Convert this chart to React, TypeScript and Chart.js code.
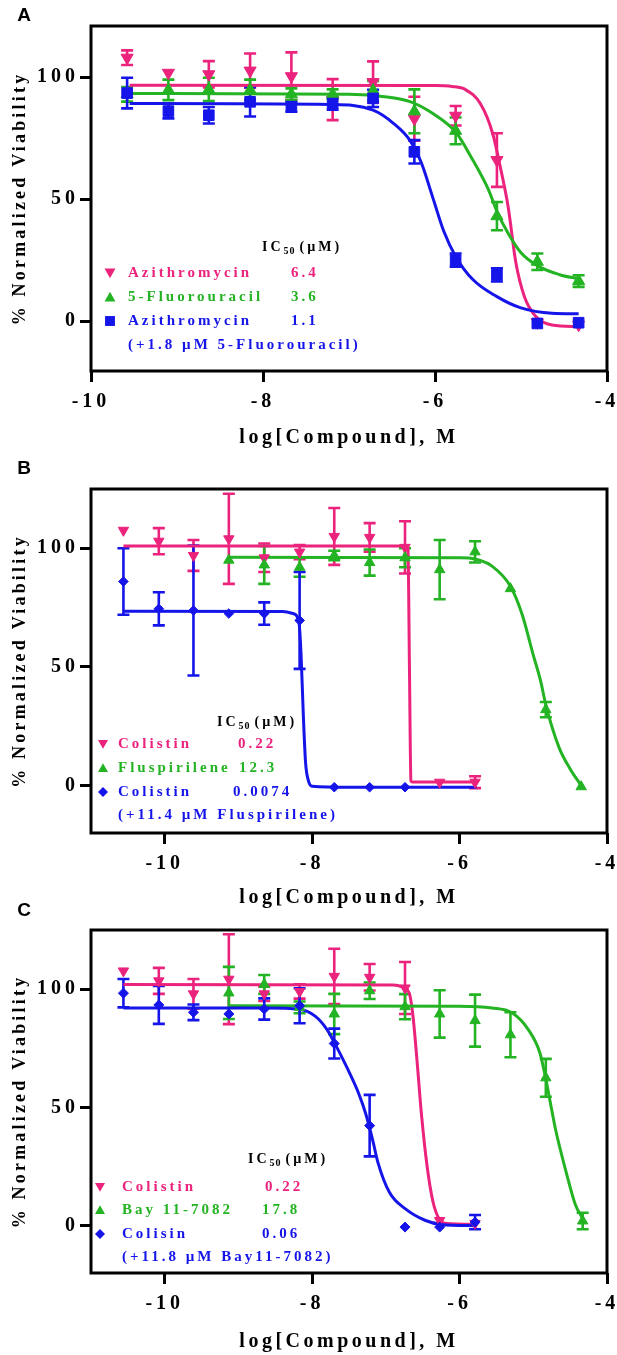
import { useEffect, useRef } from 'react';
import { Chart, registerables } from 'chart.js';

Chart.register(...registerables);

const MAGENTA = '#EB237D';
const GREEN = '#23B323';
const BLUE = '#1515EA';

const X_TICKS = [-10, -8, -6, -4];
const Y_TICKS = [0, 50, 100];

// ---------------- Panel A ----------------
const A_DOSE = [-9.58, -9.10, -8.63, -8.15, -7.67, -7.19, -6.72, -6.24, -5.76, -5.28, -4.81, -4.33];
const A_AZI = [108, 101.8, 101.2, 102.7, 100.4, 90.8, 98, 83, 84.2, 66, -0.5, -1.5];
const A_AZI_ERR = [3, 0, 5.4, 7, 9.8, 8.4, 8.5, 9, 4, 11, 0, 0];
const A_FU = [93, 94.8, 95, 94.8, 93, 93, 94.5, 86, 78, 43, 24.3, 16.4];
const A_FU_ERR = [3, 4.2, 4.8, 4.2, 2.4, 2, 4, 9, 5.5, 5.8, 3.4, 2.4];
const A_COMBO = [93.5, 86.1, 84.4, 89.9, 87.8, 89.2, 91.3, 69.4, 25, 18.9, -1, -0.7];
const A_COMBO_ERR = [6.3, 3, 3.4, 6, 2, 2.5, 3.5, 4.8, 2.7, 2.7, 0, 0];

const A_AZI_FIT_X = [-9.55, -6.0, -5.8, -5.65, -5.47, -5.33, -5.24, -5.15, -5.06, -4.96, -4.83, -4.64, -4.33];
const A_AZI_FIT_Y = [96.7, 96.6, 96.2, 95, 89, 77, 63, 47, 24, 10, 2, -1.6, -2.3];
const A_FU_FIT_X = [-9.55, -7.0, -6.72, -6.29, -6.02, -5.76, -5.56, -5.38, -5.28, -5.15, -5.0, -4.8, -4.55, -4.33];
const A_FU_FIT_Y = [93.3, 93, 92.5, 90, 85, 77.5, 66, 54, 45, 36, 28, 22.5, 19, 17.3];
const A_COMBO_FIT_X = [-9.55, -7.2, -6.72, -6.48, -6.29, -6.16, -6.02, -5.9, -5.76, -5.56, -5.28, -5.01, -4.64, -4.33];
const A_COMBO_FIT_Y = [89.2, 88.8, 86.5, 81, 74, 65, 50, 37, 26.5, 17, 10, 5.5, 3.2, 3];

const A_NAMES = ['Azithromycin', '5-Fluorouracil', 'Azithromycin'];
const A_IC50 = ['6.4', '3.6', '1.1'];
const A_NOTE = '(+1.8 µM 5-Fluorouracil)';

// ---------------- Panel B ----------------
const B_COL_DOSE = [-10.56, -10.08, -9.61, -9.13, -8.65, -8.17, -7.70, -7.22, -6.74, -6.27, -5.79];
const B_COL = [107.6, 103, 97, 104, 96, 98.4, 105, 104.6, 100.4, 1.4, 1.4];
const B_COL_ERR = [0, 5.5, 6.5, 19, 6, 3, 12, 6, 11, 0, 2.5];
const B_FLU_DOSE = [-9.13, -8.65, -8.17, -7.70, -7.22, -6.74, -6.27, -5.79, -5.31, -4.83, -4.35];
const B_FLU = [95, 93, 92, 97, 94, 96, 91, 98.5, 83, 32, -0.5];
const B_FLU_ERR = [0, 8, 4, 2, 5.5, 4, 12.5, 4.5, 0, 3.2, 0];
const B_CF_DOSE = [-10.56, -10.08, -9.61, -9.13, -8.65, -8.17, -7.70, -7.22, -6.74];
const B_CF = [86, 74.5, 73.8, 72.5, 72.5, 69.6, -0.7, -0.7, -0.7];
const B_CF_ERR = [14, 7, 27.4, 0, 4.7, 20.4, 0, 0, 0];

const B_COL_FIT_X = [-10.56, -6.72, -6.70, -6.68, -6.66, -6.64, -5.77];
const B_COL_FIT_Y = [101, 101, 100, 50, 2, 1.5, 1.5];
const B_FLU_FIT_X = [-9.13, -6.0, -5.79, -5.56, -5.31, -5.15, -5.0, -4.9, -4.83, -4.65, -4.5, -4.35];
const B_FLU_FIT_Y = [96.2, 96, 95.5, 92.5, 84, 72, 55, 44, 34, 16, 7, 0];
const B_CF_FIT_X = [-10.56, -8.4, -8.26, -8.18, -8.15, -8.12, -8.09, -8.05, -8.0, -7.5, -5.77];
const B_CF_FIT_Y = [73.5, 73.4, 72.5, 69, 55, 30, 10, 2, -0.3, -0.7, -0.7];

const B_NAMES = ['Colistin', 'Fluspirilene', 'Colistin'];
const B_IC50 = ['0.22', '12.3', '0.0074'];
const B_NOTE = '(+11.4 µM Fluspirilene)';

// ---------------- Panel C ----------------
const C_DOSE = [-10.56, -10.08, -9.61, -9.13, -8.65, -8.17, -7.70, -7.22, -6.74, -6.27, -5.79];
const C_COL = [107.7, 103.5, 98, 104.2, 98, 99, 105.4, 105, 100.5, 2.2, 1];
const C_COL_ERR = [0, 5.5, 6.3, 19, 3, 3, 11.7, 5.6, 11, 0, 0];
const C_BAY_DOSE = [-9.13, -8.65, -8.17, -7.70, -7.22, -6.74, -6.27, -5.79, -5.31, -4.83, -4.33];
const C_BAY = [98.4, 102, 92.3, 89.5, 99.3, 92.6, 89.5, 86.7, 80.7, 62.5, 2];
const C_BAY_ERR = [11, 4, 2.5, 8.5, 3.5, 5.3, 10, 11, 9.5, 8, 3.5];
const C_CB = [98.3, 93.3, 90.2, 89.5, 91.6, 93, 77, 42.3, -0.6, -0.6, 1.5];
const C_CB_ERR = [6, 8, 3.3, 0, 4.5, 7.4, 6.3, 13, 0, 0, 3];

const C_COL_FIT_X = [-10.56, -6.9, -6.78, -6.68, -6.63, -6.57, -6.52, -6.44, -6.36, -6.28, -6.2, -5.77];
const C_COL_FIT_Y = [102, 101.8, 101, 98, 88, 67, 48, 25, 10, 3, 1, 0.5];
const C_BAY_FIT_X = [-9.13, -6.0, -5.56, -5.29, -5.07, -4.91, -4.83, -4.75, -4.70, -4.54, -4.43, -4.33];
const C_BAY_FIT_Y = [93, 92.8, 92, 90, 83, 73, 62, 49, 41, 21, 9, 3];
const C_CB_FIT_X = [-10.56, -8.6, -8.18, -7.96, -7.80, -7.70, -7.53, -7.37, -7.27, -7.17, -7.11, -6.95, -6.73, -6.47, -6.25, -5.77];
const C_CB_FIT_Y = [92, 92, 91.5, 88.6, 83, 77.5, 67, 56, 47, 35, 27, 14, 7, 2.3, 0.5, 0];

const C_NAMES = ['Colistin', 'Bay 11-7082', 'Colisin'];
const C_IC50 = ['0.22', '17.8', '0.06'];
const C_NOTE = '(+11.8 µM Bay11-7082)';

const X_TITLE = 'log[Compound], M';
const Y_TITLE = '% Normalized Viability';

type Style = 'triDown' | 'triUp' | 'rect' | 'diamond';
interface Series {
  dose: number[]; val: number[]; err: number[]; fitX: number[]; fitY: number[];
  color: string; style: Style; radius: number;
}
interface Legend {
  headerX: number; headerY: number; rowY: number[]; markerX: number; textX: number;
  valueX: number[]; names: string[]; values: string[]; note: string; markerSize: number;
}
interface Panel {
  label: string; labelY: number; top: number; height: number; padTop: number; axisH: number;
  xMin: number; xMax: number; yMin: number; yMax: number; xTitleY: number;
  series: Series[]; legend: Legend;
}

const PANELS: Panel[] = [
  {
    label: 'A', labelY: 15, top: 0, height: 450, padTop: 26, axisH: 79,
    xMin: -10, xMax: -4, yMin: -20.5, yMax: 121, xTitleY: 438,
    series: [
      { dose: A_DOSE, val: A_AZI, err: A_AZI_ERR, fitX: A_AZI_FIT_X, fitY: A_AZI_FIT_Y, color: MAGENTA, style: 'triDown', radius: 7 },
      { dose: A_DOSE, val: A_FU, err: A_FU_ERR, fitX: A_FU_FIT_X, fitY: A_FU_FIT_Y, color: GREEN, style: 'triUp', radius: 7 },
      { dose: A_DOSE, val: A_COMBO, err: A_COMBO_ERR, fitX: A_COMBO_FIT_X, fitY: A_COMBO_FIT_Y, color: BLUE, style: 'rect', radius: 7.5 },
    ],
    legend: { headerX: 262, headerY: 247, rowY: [273, 297, 321, 345], markerX: 110, textX: 128, valueX: [291, 291, 291], names: A_NAMES, values: A_IC50, note: A_NOTE, markerSize: 5.5 },
  },
  {
    label: 'B', labelY: 468, top: 450, height: 460, padTop: 39, axisH: 77,
    xMin: -11, xMax: -4, yMin: -20, yMax: 125, xTitleY: 448,
    series: [
      { dose: B_COL_DOSE, val: B_COL, err: B_COL_ERR, fitX: B_COL_FIT_X, fitY: B_COL_FIT_Y, color: MAGENTA, style: 'triDown', radius: 6 },
      { dose: B_FLU_DOSE, val: B_FLU, err: B_FLU_ERR, fitX: B_FLU_FIT_X, fitY: B_FLU_FIT_Y, color: GREEN, style: 'triUp', radius: 6 },
      { dose: B_CF_DOSE, val: B_CF, err: B_CF_ERR, fitX: B_CF_FIT_X, fitY: B_CF_FIT_Y, color: BLUE, style: 'diamond', radius: 4.8 },
    ],
    legend: { headerX: 217, headerY: 272, rowY: [294, 318, 342, 365], markerX: 103, textX: 118, valueX: [238, 239, 233], names: B_NAMES, values: B_IC50, note: B_NOTE, markerSize: 5 },
  },
  {
    label: 'C', labelY: 910, top: 910, height: 445, padTop: 20, axisH: 82,
    xMin: -11, xMax: -4, yMin: -20, yMax: 125, xTitleY: 432,
    series: [
      { dose: C_DOSE, val: C_COL, err: C_COL_ERR, fitX: C_COL_FIT_X, fitY: C_COL_FIT_Y, color: MAGENTA, style: 'triDown', radius: 6 },
      { dose: C_BAY_DOSE, val: C_BAY, err: C_BAY_ERR, fitX: C_BAY_FIT_X, fitY: C_BAY_FIT_Y, color: GREEN, style: 'triUp', radius: 6 },
      { dose: C_DOSE, val: C_CB, err: C_CB_ERR, fitX: C_CB_FIT_X, fitY: C_CB_FIT_Y, color: BLUE, style: 'diamond', radius: 5 },
    ],
    legend: { headerX: 248, headerY: 249, rowY: [277, 300, 324, 347], markerX: 100, textX: 122, valueX: [265, 262, 262], names: C_NAMES, values: C_IC50, note: C_NOTE, markerSize: 5 },
  },
];

const SERIF = '"Liberation Serif", "Times New Roman", serif';

function drawMarker(ctx: CanvasRenderingContext2D, style: Style, x: number, y: number, r: number) {
  ctx.beginPath();
  if (style === 'triDown') {
    ctx.moveTo(x - r, y - r * 0.8); ctx.lineTo(x + r, y - r * 0.8); ctx.lineTo(x, y + r * 0.95);
  } else if (style === 'triUp') {
    ctx.moveTo(x - r, y + r * 0.8); ctx.lineTo(x + r, y + r * 0.8); ctx.lineTo(x, y - r * 0.95);
  } else if (style === 'rect') {
    ctx.rect(x - r * 0.9, y - r * 0.9, r * 1.8, r * 1.8);
  } else {
    ctx.moveTo(x, y - r); ctx.lineTo(x + r, y); ctx.lineTo(x, y + r); ctx.lineTo(x - r, y);
  }
  ctx.closePath();
  ctx.fill();
}

function makePlugin(p: Panel) {
  return {
    id: 'panelDecor' + p.label,
    beforeDraw(chart: any) {
      (chart.ctx as any).letterSpacing = '4px';
    },
    beforeDatasetsDraw(chart: any) {
      const ctx: CanvasRenderingContext2D = chart.ctx;
      const xs = chart.scales.x, ys = chart.scales.y;
      ctx.save();
      ctx.lineWidth = 2.6;
      ctx.lineCap = 'butt';
      for (const s of p.series) {
        ctx.strokeStyle = s.color;
        s.dose.forEach((d, i) => {
          const e = s.err[i];
          if (!e) return;
          const px = xs.getPixelForValue(d);
          const pt = ys.getPixelForValue(s.val[i] + e);
          const pb = ys.getPixelForValue(s.val[i] - e);
          const cap = 6;
          ctx.beginPath();
          ctx.moveTo(px, pt); ctx.lineTo(px, pb);
          ctx.moveTo(px - cap, pt); ctx.lineTo(px + cap, pt);
          ctx.moveTo(px - cap, pb); ctx.lineTo(px + cap, pb);
          ctx.stroke();
        });
      }
      ctx.restore();
    },
    afterDraw(chart: any) {
      const ctx: any = chart.ctx;
      const a = chart.chartArea;
      ctx.save();
      // frame
      ctx.strokeStyle = '#000';
      ctx.lineWidth = 3;
      ctx.strokeRect(a.left, a.top, a.right - a.left, a.bottom - a.top);
      // x title
      ctx.fillStyle = '#000';
      ctx.letterSpacing = '3.5px';
      ctx.font = `bold 20px ${SERIF}`;
      ctx.textAlign = 'center';
      ctx.textBaseline = 'middle';
      ctx.fillText(X_TITLE, (a.left + a.right) / 2, p.xTitleY);
      // y title
      ctx.save();
      ctx.translate(20, (a.top + a.bottom) / 2);
      ctx.rotate(-Math.PI / 2);
      ctx.letterSpacing = '3.2px';
      ctx.font = `bold 18px ${SERIF}`;
      ctx.fillText(Y_TITLE, 0, 0);
      ctx.restore();
      // legend
      const L = p.legend;
      ctx.textAlign = 'left';
      ctx.textBaseline = 'middle';
      ctx.letterSpacing = '3px';
      ctx.fillStyle = '#000';
      ctx.font = `bold 14px ${SERIF}`;
      let hx = L.headerX;
      ctx.fillText('IC', hx, L.headerY);
      hx += ctx.measureText('IC').width;
      ctx.font = `bold 10px ${SERIF}`;
      ctx.letterSpacing = '1px';
      ctx.fillText('50', hx, L.headerY + 4);
      hx += ctx.measureText('50').width + 4;
      ctx.font = `bold 14px ${SERIF}`;
      ctx.letterSpacing = '3px';
      ctx.fillText('(µM)', hx, L.headerY);
      ctx.font = `bold 15px ${SERIF}`;
      p.series.forEach((s, i) => {
        ctx.fillStyle = s.color;
        drawMarker(ctx, s.style, L.markerX, L.rowY[i], L.markerSize);
        ctx.fillText(L.names[i], L.textX, L.rowY[i]);
        ctx.fillText(L.values[i], L.valueX[i], L.rowY[i]);
      });
      ctx.fillStyle = p.series[2].color;
      ctx.fillText(L.note, L.textX, L.rowY[3]);
      ctx.restore();
    },
  };
}

function PanelChart({ panel }: { panel: Panel }) {
  const ref = useRef<HTMLCanvasElement | null>(null);
  useEffect(() => {
    if (!ref.current) return;
    const datasets: any[] = [];
    panel.series.forEach((s, i) => {
      datasets.push({
        type: 'line',
        data: s.fitX.map((x, k) => ({ x, y: s.fitY[k] })),
        borderColor: s.color,
        borderWidth: 3,
        pointRadius: 0,
        cubicInterpolationMode: 'monotone',
        fill: false,
        order: 10 - i,
      });
      datasets.push({
        type: 'line',
        data: s.dose.map((x, k) => ({ x, y: s.val[k] })),
        showLine: false,
        pointStyle: s.style === 'rect' ? 'rect' : s.style === 'diamond' ? 'rectRot' : 'triangle',
        pointRotation: s.style === 'triDown' ? 180 : 0,
        pointRadius: s.radius,
        pointBackgroundColor: s.color,
        pointBorderColor: s.color,
        pointBorderWidth: 1,
        order: 5 - i,
      });
    });
    const tickFont = { family: SERIF, weight: 'bold' as const, size: 20 };
    const chart = new Chart(ref.current, {
      type: 'line',
      data: { datasets },
      plugins: [makePlugin(panel)],
      options: {
        responsive: false,
        animation: false,
        devicePixelRatio: 1,
        layout: { padding: { top: panel.padTop, right: 10, left: 0, bottom: 0 } },
        plugins: { legend: { display: false }, tooltip: { enabled: false } },
        scales: {
          x: {
            type: 'linear',
            min: panel.xMin,
            max: panel.xMax,
            afterBuildTicks: (s: any) => { s.ticks = X_TICKS.map((v) => ({ value: v })); },
            afterFit: (s: any) => { s.height = panel.axisH; s.paddingLeft = 0; s.paddingRight = 0; },
            grid: { display: true, drawOnChartArea: false, drawTicks: true, tickLength: 11, tickWidth: 3, tickColor: '#000' },
            border: { display: false },
            ticks: { color: '#000', font: tickFont, padding: 8, maxRotation: 0, autoSkip: false, callback: (v: any) => String(v) },
          },
          y: {
            type: 'linear',
            min: panel.yMin,
            max: panel.yMax,
            afterBuildTicks: (s: any) => { s.ticks = Y_TICKS.map((v) => ({ value: v })); },
            afterFit: (s: any) => { s.width = 91; s.paddingTop = 0; s.paddingBottom = 0; },
            grid: { display: true, drawOnChartArea: false, drawTicks: true, tickLength: 11, tickWidth: 3, tickColor: '#000' },
            border: { display: false },
            ticks: { color: '#000', font: tickFont, padding: 1, autoSkip: false, callback: (v: any) => String(v) },
          },
        },
      } as any,
    });
    return () => chart.destroy();
  }, [panel]);
  return (
    <canvas
      ref={ref}
      width={617}
      height={panel.height}
      style={{ position: 'absolute', left: 0, top: panel.top, width: 617, height: panel.height, display: 'block' }}
    />
  );
}

export default function App() {
  return (
    <div style={{ position: 'absolute', left: 0, top: 0, width: 617, height: 1355, background: '#fff', overflow: 'hidden' }}>
      {PANELS.map((p) => (
        <PanelChart key={p.label} panel={p} />
      ))}
      {PANELS.map((p) => (
        <div
          key={'lbl' + p.label}
          style={{
            position: 'absolute', left: 14, top: p.labelY - 11, width: 20, height: 22, lineHeight: '22px',
            fontFamily: '"Liberation Sans", Arial, sans-serif', fontWeight: 'bold', fontSize: 19, color: '#000', textAlign: 'center',
          }}
        >
          {p.label}
        </div>
      ))}
    </div>
  );
}
